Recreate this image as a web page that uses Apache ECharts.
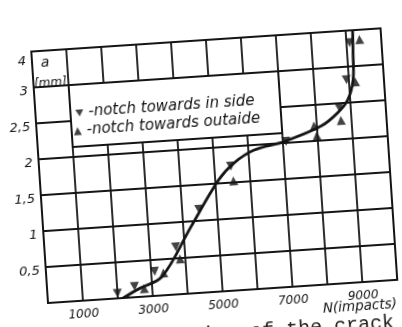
<!DOCTYPE html>
<html>
<head>
<meta charset="utf-8">
<script src="https://cdn.jsdelivr.net/npm/echarts@6/dist/echarts.min.js"></script>
<style>
  html, body { margin:0; padding:0; width:402px; height:327px; overflow:hidden; background:#ffffff; }
  #chart { position:absolute; left:-12px; top:11px; width:480px; height:370px;
           transform-origin:60px 292px; transform:rotate(-3.8deg); }
</style>
</head>
<body>
<div id="chart"></div>
<script>
// ---- data ----
const insideN  = [2000, 2500, 3100, 3750, 4480, 5470, 7090, 8670, 8930, 9090];
const insideA  = [0.07, 0.15, 0.34, 0.66, 1.16, 1.73, 2.02, 2.44, 2.82, 3.66];
const outsideN = [2770, 3350, 3850, 5520, 7920, 7980, 8700, 9180, 9380];
const outsideA = [0.11, 0.31, 0.49, 1.52, 2.21, 2.07, 2.26, 2.78, 3.73];
const curveN   = [2150, 2650, 3300, 4200, 5100, 5570, 6170, 7040, 8120, 8620, 8930, 9120, 9170, 9200];
const curveA   = [0.00, 0.12, 0.26, 0.91, 1.55, 1.77, 1.93, 2.02, 2.20, 2.37, 2.54, 2.81, 3.37, 4.00];
const yTickLabels = ['', '0,5', '1', '1,5', '2', '2,5', '3', '4'];
const xTickValues = [1000, 3000, 5000, 7000, 9000];
const insideName  = '-notch towards in side';
const outsideName = '-notch towards outaide';
const xName = 'N(impacts)';
const yName = 'a';
const yUnit = '[mm]';
const caption = 'Propagation of the crack';

// the y axis has equal rows for 0,5 steps up to 3, then one row 3 -> 4
function toRow(a) { return a <= 3 ? a * 2 : 6 + (a - 3); }
function pairs(xs, ys) { return xs.map((x, i) => [x, toRow(ys[i])]); }

const ink = '#141414';
const hand = { fontFamily: 'DejaVu Sans', fontStyle: 'italic', color: ink };
const legendBase = {
  orient: 'vertical', z: 6, padding: 0, itemWidth: 8, itemHeight: 8,
  textStyle: Object.assign({ fontSize: 15, lineHeight: 14 }, hand)
};

const chart = echarts.init(document.getElementById('chart'), null, { renderer: 'canvas' });
chart.setOption({
  animation: false,
  backgroundColor: 'transparent',
  grid: { left: 60, top: 40, width: 350, height: 252, show: true, borderColor: ink, borderWidth: 2, backgroundColor: 'transparent' },
  xAxis: {
    type: 'value', min: 0, max: 10000, interval: 1000,
    axisLine: { show: true, lineStyle: { color: ink, width: 2 } },
    axisTick: { show: false },
    splitLine: { show: true, lineStyle: { color: ink, width: 1.8 } },
    axisLabel: Object.assign({ fontSize: 12, margin: 8,
      formatter: v => xTickValues.includes(v) ? String(v) : '' }, hand)
  },
  yAxis: {
    type: 'value', min: 0, max: 7, interval: 1,
    axisLine: { show: true, lineStyle: { color: ink, width: 2 } },
    axisTick: { show: false },
    splitLine: { show: true, lineStyle: { color: ink, width: 1.8 } },
    axisLabel: Object.assign({ fontSize: 13, margin: 6, padding: [8, 0, 0, 0],
      formatter: v => {
        const t = yTickLabels[Math.round(v)] || '';
        return Math.round(v) === 7 ? '{low|' + t + '}' : t;
      },
      rich: { low: { fontSize: 13, fontStyle: 'italic', fontFamily: 'DejaVu Sans', color: ink, padding: [12, 0, 0, 0] } }
    }, hand)
  },
  legend: [
    Object.assign({ left: 100, top: 97, data: [{ name: insideName, icon: 'path://M0,0L10,0L5,9Z' }] }, legendBase),
    Object.assign({ left: 97, top: 115, data: [{ name: outsideName, icon: 'triangle' }] }, legendBase)
  ],
  graphic: [
    { type: 'rect', z: 3, shape: { x: 95, y: 76, width: 210, height: 62 },
      style: { fill: '#ffffff', stroke: ink, lineWidth: 2 } },
    { type: 'text', z: 3, x: 73, y: 52, style: { text: yName, font: 'italic 14px "DejaVu Sans"', fill: ink, align: 'center', verticalAlign: 'middle' } },
    { type: 'text', z: 3, x: 77, y: 73, style: { text: yUnit, font: 'italic 12px "DejaVu Sans"', fill: ink, align: 'center', verticalAlign: 'middle' } },
    { type: 'text', z: 3, x: 371, y: 316, style: { text: xName, font: 'italic 13.5px "DejaVu Sans"', fill: ink, align: 'center', verticalAlign: 'middle' } },
    { type: 'text', z: 3, x: 404, y: 335, style: { text: caption, font: '20px "Liberation Mono"', fill: '#222', align: 'right', verticalAlign: 'middle' } }
  ],
  series: [
    { type: 'line', name: 'curve', data: pairs(curveN, curveA), smooth: 0.35, showSymbol: false,
      lineStyle: { color: ink, width: 2.8 }, z: 2 },
    { type: 'scatter', name: insideName, data: pairs(insideN, insideA), symbol: 'triangle', symbolRotate: 180,
      symbolSize: 9, itemStyle: { color: ink }, z: 4 },
    { type: 'scatter', name: outsideName, data: pairs(outsideN, outsideA), symbol: 'triangle',
      symbolSize: 9, itemStyle: { color: ink }, z: 4 }
  ]
});
</script>
</body>
</html>
